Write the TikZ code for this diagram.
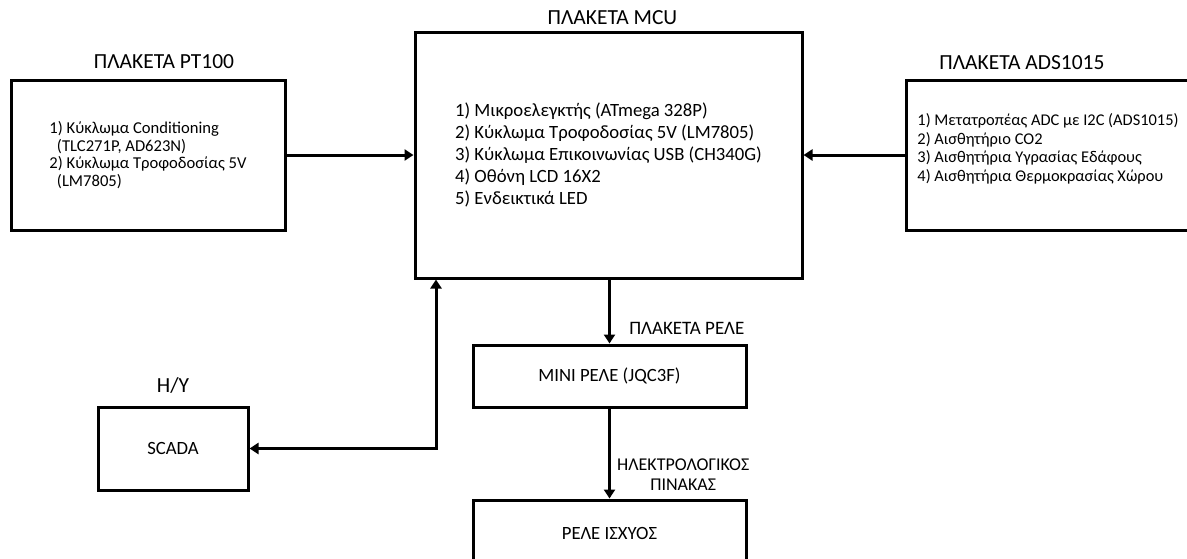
\documentclass[tikz,border=0pt]{standalone}
\usepackage{fontspec}
\setmainfont{Carlito}
\usepackage{tikz}
\usetikzlibrary{arrows.meta,calc,positioning}
\tikzset{%
	block/.style    = {draw, rectangle, line width=3pt, inner sep=0pt}, % Board
	title/.style    = {font=\fontsize{21.5}{24}\selectfont, inner sep=0pt}, % Board name
	list/.style     = {align=left, font=\fontsize{16.6}{17.5}\selectfont}, % Parts list
	label/.style    = {font=\fontsize{18}{20}\selectfont, inner sep=0pt, align=center}, % Small name
	link/.style     = {line width=3pt, -{Triangle[length=9pt,width=11pt]}}, % Connector
}

\begin{document}
\begin{tikzpicture}[x=1pt, y=-1pt]
	\clip (0,0) rectangle (1187,558);
	\useasboundingbox (0,0) rectangle (1187,558);
	% main board
	\node[block, minimum width=387pt, minimum height=246pt, list, font=\fontsize{18.7}{22}\selectfont] (mcu) at (608.5,155) {1) Μικροελεγκτής (ATmega 328P)\\2) Κύκλωμα Τροφοδοσίας 5V (LM7805)\\3) Κύκλωμα Επικοινωνίας USB (CH340G)\\4) Οθόνη LCD 16X2\\5) Ενδεικτικά LED};
	\node[title, above=6pt of mcu, xshift=4pt] (mcut) {ΠΛΑΚΕΤΑ MCU};
	% sensor boards
	\node[block, minimum width=274pt, minimum height=150pt, list] (pt) at (148,155) {1) Κύκλωμα Conditioning\\\ \ (TLC271P, AD623N)\\2) Κύκλωμα Τροφοδοσίας 5V\\\ \ (LM7805)};
	\node[title, above=10pt of pt, xshift=16pt] (ptt) {ΠΛΑΚΕΤΑ PT100};
	\node[block, minimum width=284pt, minimum height=150pt, list, font=\fontsize{16.4}{18.5}\selectfont, text depth=15pt] (ads) at (1048,155) {1) Μετατροπέας ADC με I2C (ADS1015)\\2) Αισθητήριο CO2\\3) Αισθητήρια Υγρασίας Εδάφους\\4) Αισθητήρια Θερμοκρασίας Χώρου};
	\node[title, above=9pt of ads, xshift=-26pt] (adst) {ΠΛΑΚΕΤΑ ADS1015};
	% pc
	\node[block, minimum width=150pt, minimum height=83pt, font=\fontsize{18.7}{22}\selectfont] (scada) at (173,448.5) {SCADA};
	\node[title, above=12pt of scada] (pc) {H/Y};
	% relays
	\node[block, minimum width=273pt, minimum height=62pt, font=\fontsize{18.7}{22}\selectfont] (mini) at (609.5,376) {MINI ΡΕΛΕ (JQC3F)};
	\node[label, font=\fontsize{19}{22}\selectfont, above left=9pt and 3pt of mini.north east, anchor=south east] (relt) {ΠΛΑΚΕΤΑ ΡΕΛΕ};
	\node[block, minimum width=273pt, minimum height=80pt, font=\fontsize{18.7}{22}\selectfont, text depth=13pt] (power) at (609.5,540) {ΡΕΛΕ ΙΣΧΥΟΣ};
	\node[label, above left=8pt and -2pt of power.north east, anchor=south east] (panel) {ΗΛΕΚΤΡΟΛΟΓΙΚΟΣ\\ΠΙΝΑΚΑΣ};
	% connectors
	\draw[link] (pt.east) -- (pt.east -| mcu.west);
	\draw[link] (ads.west) -- (ads.west -| mcu.east);
	\draw[link] (mini.north |- mcu.south) -- (mini.north);
	\draw[link] (mini.south) -- (power.north);
	\draw[link, {Triangle[length=9pt,width=11pt]}-{Triangle[length=9pt,width=11pt]}] ([xshift=-172.5pt]mcu.south) |- (scada.east);
\end{tikzpicture}
\end{document}
